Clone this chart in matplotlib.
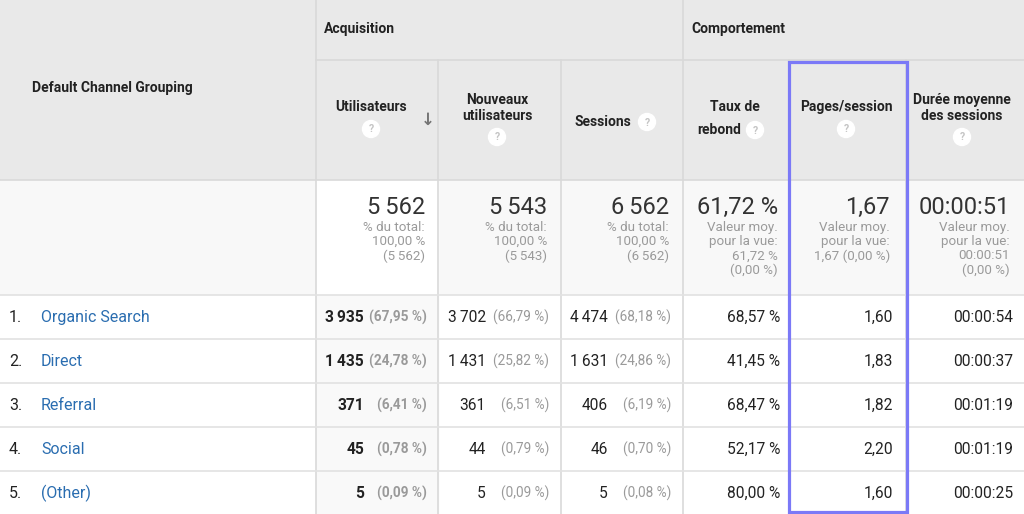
import matplotlib.pyplot as plt
from matplotlib.patches import Rectangle, Circle

# data
channels = ['Organic Search', 'Direct', 'Referral', 'Social', '(Other)']
users = [3935, 1435, 371, 45, 5]
users_pct = ['67,95', '24,78', '6,41', '0,78', '0,09']
new_users = [3702, 1431, 361, 44, 5]
new_users_pct = ['66,79', '25,82', '6,51', '0,79', '0,09']
sessions = [4474, 1631, 406, 46, 5]
sessions_pct = ['68,18', '24,86', '6,19', '0,70', '0,08']
bounce = ['68,57', '41,45', '68,47', '52,17', '80,00']
pages = ['1,60', '1,83', '1,82', '2,20', '1,60']
duration = ['00:00:54', '00:00:37', '00:01:19', '00:01:19', '00:00:25']

tot_users, tot_new, tot_sessions = 5562, 5543, 6562
tot_bounce, tot_pages, tot_duration = '61,72', '1,67', '00:00:51'

FAM = ['Roboto', 'DejaVu Sans']
GRID = '#d9d9d9'
GRAY = '#9a9a9a'


def fmt(n):
    return f'{n:,}'.replace(',', '\u2009')


fig = plt.figure(figsize=(10.24, 5.14), dpi=100)
ax = fig.add_axes([0, 0, 1, 1])
ax.set_xlim(0, 1024)
ax.set_ylim(514, 0)
ax.axis('off')

# column edges and row edges (pixels)
cols = [0, 316, 438, 561, 683, 789, 906, 1024]
row_top = 295
row_h = 44

# backgrounds
ax.add_patch(Rectangle((0, 0), 1024, 180, color='#e9e9e9', zorder=0))
ax.add_patch(Rectangle((0, 180), 1024, 115, color='#f8f8f8', zorder=0))
ax.add_patch(Rectangle((cols[1], 180), cols[2] - cols[1], 115, color='white', zorder=0))
ax.add_patch(Rectangle((0, row_top), 1024, 514 - row_top, color='white', zorder=0))
ax.add_patch(Rectangle((cols[1], row_top), cols[2] - cols[1], 514 - row_top, color='#f9f9f9', zorder=0))

# grid lines
ax.plot([cols[1], cols[1]], [0, 514], color=GRID, lw=1.2)
ax.plot([cols[4], cols[4]], [0, 514], color=GRID, lw=1.2)
for x in [cols[2], cols[3], cols[5], cols[6]]:
    ax.plot([x, x], [60, 514], color=GRID, lw=1.2)
ax.plot([cols[1], 1024], [60, 60], color=GRID, lw=1.2)
ax.plot([0, 1024], [180, 180], color=GRID, lw=1.2)
for i in range(len(channels)):
    y = row_top + i * row_h
    ax.plot([0, 1024], [y, y], color='#e2e2e2', lw=1.2)

# header texts
hdr = dict(family=FAM, weight='bold', fontsize=10, color='#222222', va='center')
ax.text(32, 88, 'Default Channel Grouping', ha='left', **hdr)
ax.text(324, 29, 'Acquisition', ha='left', **hdr)
ax.text(691, 29, 'Comportement', ha='left', **hdr)
ax.text(371, 107, 'Utilisateurs', ha='center', **hdr)
ax.text(497, 108, 'Nouveaux\nutilisateurs', ha='center', linespacing=1.1, **hdr)
ax.text(603, 122, 'Sessions', ha='center', **hdr)
ax.text(735, 107, 'Taux de', ha='center', **hdr)
ax.text(719, 130, 'rebond', ha='center', **hdr)
ax.text(846, 107, 'Pages/session', ha='center', **hdr)
ax.text(962, 108, 'Durée moyenne\ndes sessions', ha='center', linespacing=1.1, **hdr)

# help icons
for (cx, cy) in [(371, 129), (497, 137), (647, 122), (755, 130), (846, 129), (962, 137)]:
    ax.add_patch(Circle((cx, cy), 8.5, color='white', zorder=3))
    ax.text(cx, cy + 0.5, '?', ha='center', va='center', family=FAM, weight='bold',
            fontsize=7.5, color='#c4c4c4', zorder=4)
ax.text(428, 120, '↓', ha='center', va='center', family=['DejaVu Sans'], weight='bold',
        fontsize=12, color='#757575')

# totals row
big = dict(family=FAM, fontsize=17, color='#333333', ha='right', va='center')
small = dict(family=FAM, fontsize=9.6, color=GRAY, ha='right', va='top', linespacing=1.12)
ax.text(425, 207, fmt(tot_users), **big)
ax.text(547, 207, fmt(tot_new), **big)
ax.text(669, 207, fmt(tot_sessions), **big)
ax.text(778, 207, tot_bounce + ' %', **big)
ax.text(890, 207, tot_pages, **big)
ax.text(1010, 207, tot_duration, **big)
ax.text(425, 221, '% du total:\n100,00 %\n(' + fmt(tot_users) + ')', **small)
ax.text(547, 221, '% du total:\n100,00 %\n(' + fmt(tot_new) + ')', **small)
ax.text(669, 221, '% du total:\n100,00 %\n(' + fmt(tot_sessions) + ')', **small)
ax.text(778, 221, 'Valeur moy.\npour la vue:\n' + tot_bounce + ' %\n(0,00 %)', **small)
ax.text(890, 221, 'Valeur moy.\npour la vue:\n' + tot_pages + ' (0,00 %)', **small)
ax.text(1010, 221, 'Valeur moy.\npour la vue:\n' + tot_duration + '\n(0,00 %)', **small)

# data rows
val = dict(family=FAM, fontsize=11.2, color='#222222', ha='right', va='center')
pct = dict(family=FAM, fontsize=9.8, color=GRAY, ha='right', va='center')
for i, name in enumerate(channels):
    y = row_top + i * row_h + 22.5
    ax.text(9, y, f'{i + 1}.', family=FAM, fontsize=11.5, color='#222222', ha='left', va='center')
    ax.text(41, y, name, family=FAM, fontsize=11.5, color='#2a6db0', ha='left', va='center')
    ax.text(364, y, fmt(users[i]), weight='bold', **val)
    ax.text(427, y, f'({users_pct[i]} %)', weight='bold', **pct)
    ax.text(486, y, fmt(new_users[i]), **val)
    ax.text(549, y, f'({new_users_pct[i]} %)', **pct)
    ax.text(608, y, fmt(sessions[i]), **val)
    ax.text(671, y, f'({sessions_pct[i]} %)', **pct)
    ax.text(780, y, f'{bounce[i]} %', **val)
    ax.text(893, y, pages[i], **val)
    ax.text(1013, y, duration[i], **val)

# highlight box around Pages/session
ax.add_patch(Rectangle((789, 61.5), 118, 450, fill=False, edgecolor='#7b79f7', lw=2.3, zorder=5))

fig.savefig('out.png', dpi=100)
